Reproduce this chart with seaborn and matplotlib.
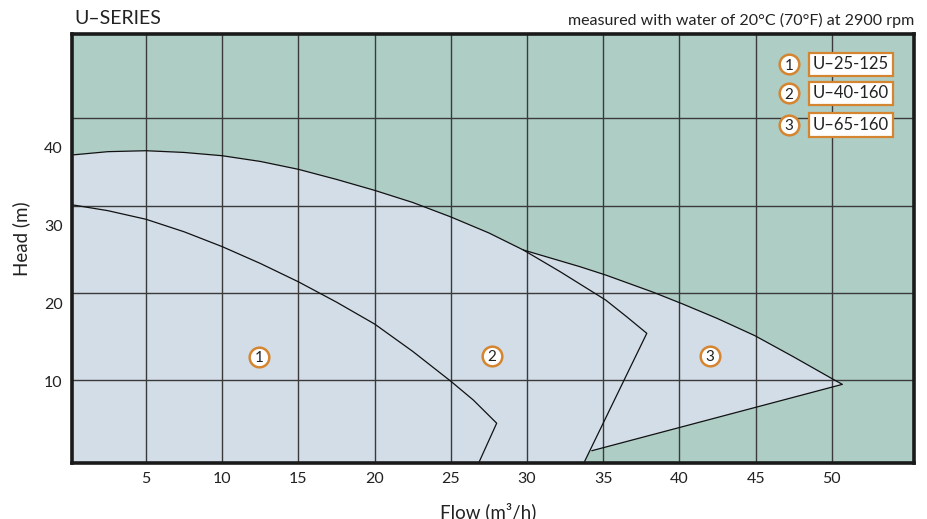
import matplotlib
matplotlib.use('Agg')
import matplotlib.pyplot as plt
import numpy as np
import pandas as pd
import seaborn as sns

# U-25-125 head curve, then the line down to the axis
flow_1 = [0.0, 2.5, 5.0, 7.5, 10.0, 12.5, 15.0, 17.5, 20.0, 22.5, 25.0, 26.48, 28.01, 26.8]
head_1 = [32.7, 31.9, 30.8, 29.2, 27.3, 25.15, 22.8, 20.2, 17.4, 13.9, 10.08, 7.67, 4.71, -0.5]

# U-40-160
flow_2 = [0.0, 2.5, 5.0, 7.5, 10.0, 12.5, 15.0, 17.5, 20.0, 22.5, 25.0, 27.5, 29.76,
          32.17, 35.16, 36.54, 37.86, 33.7]
head_2 = [39.0, 39.45, 39.57, 39.35, 38.93, 38.2, 37.19, 35.9, 34.5, 32.95, 31.1, 29.05, 26.87,
          24.1, 20.47, 18.33, 16.21, -0.5]

# U-65-160 (follows U-40-160 up to about 30 m3/h)
flow_3 = [29.76, 33.48, 35.16, 38.29, 40.22, 42.5, 44.96, 47.47, 50.06, 50.69, 34.25]
head_3 = [26.87, 24.73, 23.67, 21.46, 19.96, 18.1, 15.9, 13.22, 10.36, 9.68, 1.19]

models = ['U\u201325-125', 'U\u201340-160', 'U\u201365-160']
marker_flow = [12.4, 27.7, 42.0]
marker_head = [13.2, 13.3, 13.3]

x_ticks = [5, 10, 15, 20, 25, 30, 35, 40, 45, 50]
y_ticks = [10, 20, 30, 40]
y_grid = [10.24, 21.4, 32.54, 43.72]

teal = '#aecdc5'
pale = '#d2dde8'
orange = '#d5852f'

sns.set_theme(style='white')
plt.rcParams['font.family'] = ['Lato', 'DejaVu Sans']

fig = plt.figure(figsize=(9.28, 5.19), dpi=100)
ax = fig.add_axes([0.0781, 0.1073, 0.9066, 0.8276])
ax.set_facecolor(teal)

bottom = -0.5
n2 = flow_2.index(29.76)
ax.fill(flow_2 + [0.0], head_2 + [bottom], color=pale, lw=0, zorder=1)
ax.fill(flow_1 + [0.0], head_1 + [bottom], color=pale, lw=0, zorder=1)
ax.fill([0.0] + flow_2[:n2] + flow_3 + [0.0], [head_3[-1]] + head_2[:n2] + head_3 + [head_3[-1]],
        color=pale, lw=0, zorder=1)

curves = pd.concat([
    pd.DataFrame({'flow': flow_1, 'head': head_1, 'model': models[0]}),
    pd.DataFrame({'flow': flow_2, 'head': head_2, 'model': models[1]}),
    pd.DataFrame({'flow': flow_3, 'head': head_3, 'model': models[2]}),
])
sns.lineplot(data=curves, x='flow', y='head', units='model', estimator=None, sort=False,
             color='#111111', lw=0.9, ax=ax, zorder=3)

ax.scatter(marker_flow, marker_head, s=200, facecolor='white', edgecolor=orange, lw=1.8, zorder=4)
for i, (fx, hy) in enumerate(zip(marker_flow, marker_head)):
    ax.text(fx, hy - 0.15, str(i + 1), ha='center', va='center', fontsize=11, color='#222222', zorder=5)

# model legend, top right
leg_y = [0.929, 0.8615, 0.7877]
for i, (name, yy) in enumerate(zip(models, leg_y)):
    ax.scatter([0.8517], [yy], s=200, facecolor='white', edgecolor=orange, lw=1.8,
               transform=ax.transAxes, zorder=6, clip_on=False)
    ax.text(0.8517, yy - 0.003, str(i + 1), transform=ax.transAxes, ha='center', va='center',
            fontsize=11, color='#222222', zorder=7)
    ax.text(0.880, yy, name, transform=ax.transAxes, ha='left', va='center', fontsize=12,
            color='#222222', zorder=7,
            bbox=dict(boxstyle='square,pad=0.22', fc='white', ec=orange, lw=1.6))

ax.set_xlim(0.175, 55.38)
ax.set_ylim(-0.42, 54.53)
ax.set_xticks(x_ticks)
ax.set_yticks(y_ticks)
ax.set_yticks(y_grid, minor=True)
ax.tick_params(axis='both', which='both', length=0, labelsize=11.5, colors='#222222')
ax.tick_params(axis='y', pad=7)
ax.tick_params(axis='x', pad=6)
ax.grid(False)
ax.xaxis.grid(True, which='major', color='#3a3a3a', lw=1.0)
ax.yaxis.grid(True, which='minor', color='#3a3a3a', lw=1.0)
ax.set_axisbelow(False)

for sp in ax.spines.values():
    sp.set_color('#1a1a1a')
    sp.set_linewidth(2.6)
    sp.set_zorder(8)

ax.set_xlabel('Flow (m\u00b3/h)', fontsize=13.5, color='#222222')
ax.xaxis.set_label_coords(0.494, -0.09)
ax.set_ylabel('Head (m)', fontsize=13.5, color='#222222')
ax.yaxis.set_label_coords(-0.0505, 0.523)

fig.text(74 / 928, 1 - 18 / 519, 'U\u2013SERIES', fontsize=14, color='#222222',
         ha='left', va='center')
fig.text(914 / 928, 1 - 20 / 519, 'measured with water of 20\u00b0C (70\u00b0F) at 2900 rpm',
         fontsize=11.5, color='#222222', ha='right', va='center')

fig.savefig('out.png', dpi=100)
